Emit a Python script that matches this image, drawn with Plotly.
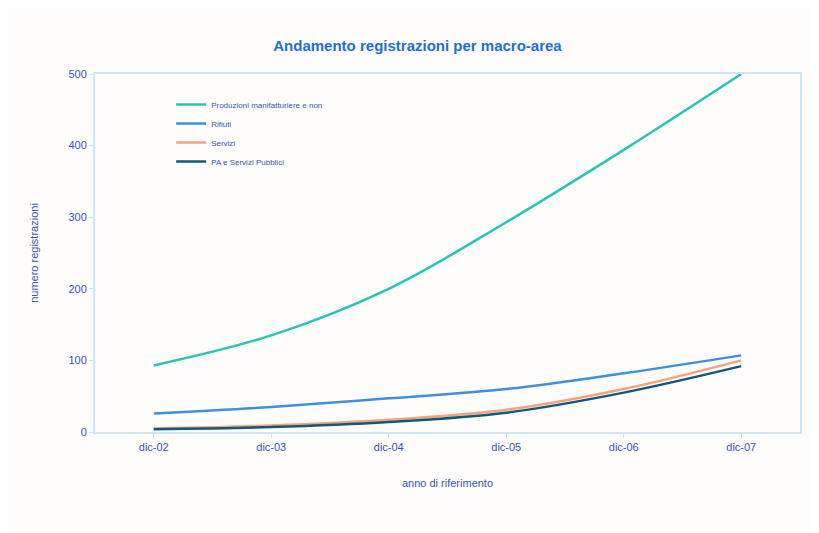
import plotly.graph_objects as go

categories = ["dic-02", "dic-03", "dic-04", "dic-05", "dic-06", "dic-07"]
produzioni = [93, 135, 200, 293, 394, 500]
rifiuti = [26, 35, 47, 60, 82, 107]
servizi = [5, 9, 17, 31, 60, 100]
pa_servizi = [4, 7, 14, 27, 55, 92]

series_names = ["Produzioni manifatturiere e non", "Rifiuti", "Servizi", "PA e Servizi Pubblici"]
series_values = [produzioni, rifiuti, servizi, pa_servizi]
series_colors = ["#2cc3b4", "#3f8fdc", "#f6a27e", "#0e5a78"]
y_ticks = [0, 100, 200, 300, 400, 500]

text_color = "#3a55b0"
font_family = "Liberation Sans, Arial, sans-serif"

fig = go.Figure()
for name, vals, col in zip(series_names, series_values, series_colors):
    fig.add_trace(go.Scatter(
        x=categories, y=vals, name=name, mode="lines",
        line=dict(color=col, width=2.5, shape="spline", smoothing=1.0),
    ))

fig.update_layout(
    width=819, height=533,
    margin=dict(l=87, r=27, t=66, b=109),
    paper_bgcolor="#fffcfc",
    plot_bgcolor="#fffcfc",
    font=dict(family=font_family, color=text_color, size=10),
    title=dict(
        text="<b>Andamento registrazioni per macro-area</b>",
        x=0.5, xanchor="center", y=0.93, yanchor="middle",
        font=dict(size=15, color="#1f6fcc", family=font_family),
    ),
    showlegend=True,
    legend=dict(
        x=0.108, y=0.955, xanchor="left", yanchor="top",
        bgcolor="rgba(0,0,0,0)", borderwidth=0,
        font=dict(size=8, color=text_color),
        tracegroupgap=0, itemwidth=30,
    ),
    xaxis=dict(
        type="category", range=[-0.5, 5.5],
        showgrid=False, zeroline=False,
        showline=True, linecolor="#cde6f7", linewidth=2, mirror=True,
        ticks="outside", ticklen=4, tickcolor="#cde6f7",
        tickfont=dict(size=11, color=text_color),
        title=dict(text="anno di riferimento", font=dict(size=11, color=text_color), standoff=27),
    ),
    yaxis=dict(
        range=[0, 500], tickvals=y_ticks,
        showgrid=False, zeroline=False,
        showline=True, linecolor="#cde6f7", linewidth=2, mirror=True,
        ticks="outside", ticklen=4, tickcolor="#cde6f7",
        tickfont=dict(size=11, color=text_color),
        title=dict(text="numero registrazioni", font=dict(size=11, color=text_color), standoff=28),
    ),
)

fig.write_html("out.html")
